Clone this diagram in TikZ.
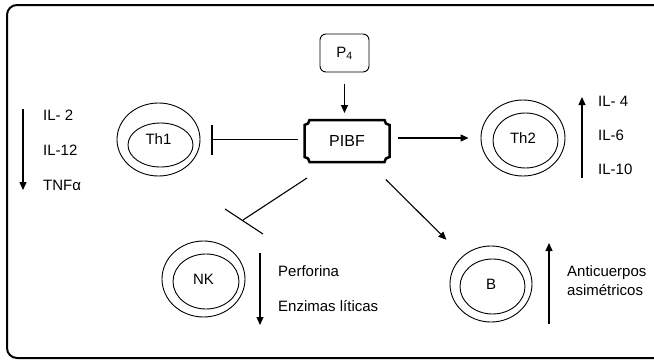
\documentclass[tikz,border=0pt]{standalone}
\usepackage{fontspec}
\setmainfont{Liberation Sans}
\usetikzlibrary{arrows.meta,shapes.geometric}

\tikzset{
  cell/.style={ellipse, draw, line width=0.9pt, inner sep=0pt, text height=10.7pt, text depth=0pt},
  nucleus/.style={ellipse, draw, line width=0.9pt, inner sep=0pt},
  arr/.style={line width=1.1pt, -{Triangle[length=8pt,width=7pt]}},
  blk/.style={line width=1.1pt, -{Bar[width=30pt,line width=1.1pt]}},
  lbl/.style={anchor=base west, inner sep=0pt},
}

\begin{document}
\begin{tikzpicture}[x=1pt,y=1pt,font=\fontsize{15}{18}\selectfont]
    \clip (0,0) rectangle (654,360);
    \draw[line width=2pt, rounded corners=10pt] (7,2) rectangle (664,355);

    % progesterone and PIBF
    \node[draw, rounded corners=6pt, line width=0.9pt, minimum width=49pt, minimum height=38pt] (p4) at (344.5,307) {P\textsubscript{4}};
    \node[minimum width=85pt, minimum height=42pt, outer sep=0pt, font=\fontsize{16}{18}\selectfont] (pibf) at (347,219) {PIBF};
    \draw[line width=2.5pt]
        ([xshift=5pt]pibf.north west) -- ([xshift=-5pt]pibf.north east)
        arc[start angle=180, end angle=270, radius=5pt] -- ([yshift=5pt]pibf.south east)
        arc[start angle=90, end angle=180, radius=5pt] -- ([xshift=5pt]pibf.south west)
        arc[start angle=0, end angle=90, radius=5pt] -- ([yshift=-5pt]pibf.north west)
        arc[start angle=270, end angle=360, radius=5pt] -- cycle;

    % cells
    \node[cell, minimum width=83pt, minimum height=73pt] (th1) at (158.5,220.5) {Th1};
    \node[nucleus, minimum width=65pt, minimum height=44pt] (th1n) at (160.5,215) {};
    \node[cell, minimum width=84pt, minimum height=76pt] (th2) at (523,222) {Th2};
    \node[nucleus, minimum width=65pt, minimum height=55pt] (th2n) at (525.5,219.5) {};
    \node[cell, minimum width=83pt, minimum height=76pt] (nk) at (203.5,81) {NK};
    \node[nucleus, minimum width=66pt, minimum height=55pt] (nkn) at (206,78.5) {};
    \node[cell, minimum width=82pt, minimum height=76pt] (bcell) at (491,76) {B};
    \node[nucleus, minimum width=65pt, minimum height=55pt] (bcelln) at (492.5,73.5) {};

    % effects of PIBF
    \draw[arr, shorten <=12pt, shorten >=7pt] (p4.south) -- (p4.south |- pibf.north);
    \draw[blk, shorten <=7pt, shorten >=11pt] (pibf.west |- th1) -- (th1.east);
    \draw[arr, shorten <=8.5pt, shorten >=12pt] (pibf.east |- th2) -- (th2.west);
    \draw[arr, shorten <=25pt, shorten >=23pt] (pibf) -- (bcell);
    \coordinate (nkfrom) at (307,182);
    \coordinate (nkto) at (243,140);
    \coordinate (nkbarl) at (225,151);
    \coordinate (nkbarr) at (263,126);
    \draw[line width=1.1pt] (nkfrom) -- (nkto);
    \draw[line width=1.1pt] (nkbarl) -- (nkbarr);

    % cytokines
    \coordinate (th1top) at (23,251);
    \coordinate (th1bot) at (23,170);
    \draw[arr] (th1top) -- (th1bot);
    \node[lbl] (il2) at (43,240) {IL- 2};
    \node[lbl] (il12) at (43,205) {IL-12};
    \node[lbl] (tnf) at (43,170) {TNFα};

    \coordinate (th2bot) at (582,182);
    \coordinate (th2top) at (582,263);
    \draw[arr] (th2bot) -- (th2top);
    \node[lbl] (il4) at (598,254) {IL- 4};
    \node[lbl] (il6) at (598,220) {IL-6};
    \node[lbl] (il10) at (598,186) {IL-10};

    \coordinate (nktop) at (260,107);
    \coordinate (nkbot) at (260,35);
    \draw[arr] (nktop) -- (nkbot);
    \node[lbl] (perf) at (278,83.3) {Perforina};
    \node[lbl] (enz) at (278,48.3) {Enzimas líticas};

    \coordinate (bbot) at (549,36);
    \coordinate (btop) at (549,117);
    \draw[arr] (bbot) -- (btop);
    \node[lbl] (anti) at (567,84) {Anticuerpos};
    \node[lbl] (asim) at (567,65) {asimétricos};
\end{tikzpicture}
\end{document}
